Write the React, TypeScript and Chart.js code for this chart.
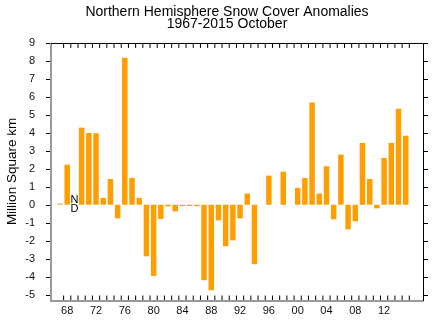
import React, { useEffect, useRef } from "react";
import { Chart, registerables } from "chart.js";

Chart.register(...registerables);

const years = [
  1967, 1968, 1969, 1970, 1971, 1972, 1973, 1974, 1975, 1976,
  1977, 1978, 1979, 1980, 1981, 1982, 1983, 1984, 1985, 1986,
  1987, 1988, 1989, 1990, 1991, 1992, 1993, 1994, 1995, 1996,
  1997, 1998, 1999, 2000, 2001, 2002, 2003, 2004, 2005, 2006,
  2007, 2008, 2009, 2010, 2011, 2012, 2013, 2014, 2015,
];

const anomalies: (number | null)[] = [
  0.06, 2.23, null, 4.29, 3.99, 3.98, 0.38, 1.43, -0.76, 8.18,
  1.49, 0.38, -2.87, -3.96, -0.79, -0.09, -0.37, -0.08, -0.07, -0.08,
  -4.2, -4.76, -0.87, -2.31, -1.98, -0.76, 0.62, -3.31, null, 1.62,
  null, 1.84, null, 0.94, 1.49, 5.69, 0.62, 2.14, -0.81, 2.79,
  -1.37, -0.92, 3.44, 1.43, -0.2, 2.6, 3.44, 5.34, 3.84,
];

const xLabelYears = [1968, 1972, 1976, 1980, 1984, 1988, 1992, 1996, 2000, 2004, 2008, 2012];
const yTicks = [-5, -4, -3, -2, -1, 0, 1, 2, 3, 4, 5, 6, 7, 8, 9];
const noDataYear = 1969;
const titleLines = ["Northern Hemisphere Snow Cover Anomalies", "1967-2015 October"];
const yTitle = "Million Square km";

const FONT = "'Liberation Sans', Arial, sans-serif";

const framePlugin = {
  id: "frame",
  afterDraw(chart: any) {
    const { ctx, chartArea: a, scales } = chart;
    const xs = scales.x;
    const ys = scales.y;
    ctx.save();
    // left + bottom gray axes
    ctx.fillStyle = "#999999";
    ctx.fillRect(a.left - 1, a.top, 2, a.bottom - a.top + 2);
    ctx.fillRect(a.left - 1, a.bottom, a.right - a.left + 1.5, 2);
    // top + right black border
    ctx.strokeStyle = "#000";
    ctx.lineWidth = 1;
    ctx.beginPath();
    ctx.moveTo(a.left, a.top + 0.5);
    ctx.lineTo(a.right + 0.5, a.top + 0.5);
    ctx.lineTo(a.right + 0.5, a.bottom + 1);
    ctx.stroke();
    // minor x ticks at year boundaries (inside)
    ctx.beginPath();
    for (const yr of years) {
      const px = xs.getPixelForValue(yr + 0.5);
      ctx.moveTo(px, a.top + 1);
      ctx.lineTo(px, a.top + 5);
      ctx.moveTo(px, a.bottom);
      ctx.lineTo(px, a.bottom - 4.5);
    }
    // y ticks (outside on both sides)
    for (const v of yTicks) {
      const py = Math.round(ys.getPixelForValue(v)) + 0.5;
      ctx.moveTo(a.left - 5, py);
      ctx.lineTo(a.left - 1, py);
      ctx.moveTo(a.right + 1, py);
      ctx.lineTo(a.right + 5, py);
    }
    ctx.stroke();
    // N/D marker
    const nx = xs.getPixelForValue(noDataYear);
    const y0 = ys.getPixelForValue(0);
    ctx.fillStyle = "#000";
    ctx.font = `11px ${FONT}`;
    ctx.textAlign = "center";
    ctx.textBaseline = "middle";
    ctx.fillText("N", nx, y0 - 5);
    ctx.fillText("D", nx, y0 + 4);
    ctx.restore();
  },
};

export default function App() {
  const ref = useRef<HTMLCanvasElement | null>(null);

  useEffect(() => {
    if (!ref.current) return;
    const chart = new Chart(ref.current, {
      type: "bar",
      data: {
        datasets: [
          {
            data: years.map((yr, i) => ({ x: yr, y: anomalies[i] })) as any,
            backgroundColor: "rgb(255,158,0)",
            borderWidth: 0,
            categoryPercentage: 1,
            barPercentage: 0.76,
          },
        ],
      },
      options: {
        responsive: false,
        animation: false,
        devicePixelRatio: 1,
        layout: { padding: { left: 14, right: 0, top: 0, bottom: 0 } },
        plugins: {
          legend: { display: false },
          tooltip: { enabled: false },
          title: {
            display: true,
            text: titleLines,
            color: "#000",
            font: { family: FONT, size: 14, weight: "normal", lineHeight: 0.82 },
            padding: { top: 6.8, bottom: 13.2 },
          },
        },
        scales: {
          x: {
            type: "linear",
            offset: false,
            min: 1965.75,
            max: 2017.4,
            grid: { display: false, drawTicks: false },
            border: { display: false },
            afterBuildTicks: (s: any) => {
              s.ticks = xLabelYears.map((v) => ({ value: v }));
            },
            afterFit: (s: any) => {
              s.height = 29;
            },
            ticks: {
              autoSkip: false,
              maxRotation: 0,
              padding: 4,
              color: "#111",
              font: { family: FONT, size: 11 },
              callback: (v: any) => String(Number(v) % 100).padStart(2, "0"),
            },
          },
          y: {
            type: "linear",
            min: -5.3,
            max: 9,
            grid: { display: false, drawTicks: false },
            border: { display: false },
            afterBuildTicks: (s: any) => {
              s.ticks = yTicks.map((v) => ({ value: v }));
            },
            afterFit: (s: any) => {
              s.width = 37;
            },
            ticks: {
              padding: 16,
              color: "#111",
              font: { family: FONT, size: 11 },
            },
            title: {
              display: true,
              text: yTitle,
              color: "#000",
              font: { family: FONT, size: 13.5 },
              padding: { top: -10.1, bottom: 0 },
            },
          },
          y2: {
            type: "linear",
            position: "right",
            min: -5.3,
            max: 9,
            grid: { display: false, drawTicks: false },
            border: { display: false },
            ticks: { display: false },
            afterFit: (s: any) => {
              s.width = 17;
            },
          },
        },
      },
      plugins: [framePlugin],
    });
    return () => chart.destroy();
  }, []);

  return (
    <div style={{ position: "fixed", left: 0, top: 0, width: 440, height: 329, background: "#fff" }}>
      <canvas ref={ref} width={440} height={329} style={{ display: "block" }} />
    </div>
  );
}
